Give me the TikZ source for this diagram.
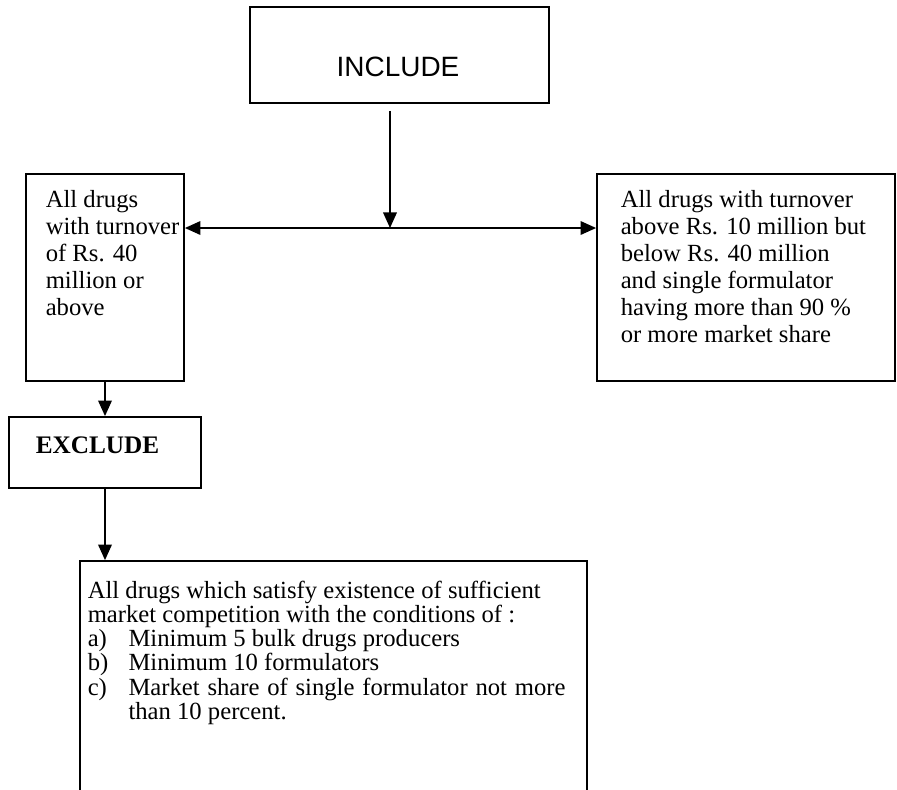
\documentclass[tikz,border=0pt]{standalone}
\usepackage{fontspec}
\setmainfont{Liberation Serif}
\newfontfamily\arialfont{Liberation Sans}
\usetikzlibrary{arrows.meta,positioning}

\begin{document}
\begin{tikzpicture}
  [
  x=0.515pt, y=-0.515pt,
  font=\fontsize{12.7}{13.9}\selectfont, draw=black, >={Triangle[length=8pt,width=7pt]}, line width=0.8pt,
  box/.style={rectangle, draw=black, line width=0.9pt, inner sep=0pt},
  txt/.style={inner sep=0pt, anchor=north west, align=left}
  ]

\useasboundingbox (0,0) rectangle (897,789);

\node[box, minimum width=154pt, minimum height=49.4pt] (include) at (399.5,55) {};
\node[box, minimum width=81.4pt, minimum height=106.6pt] (left) at (105,277.5) {};
\node[box, minimum width=153.5pt, minimum height=106.6pt] (right) at (746,277.5) {};
\node[box, minimum width=98.9pt, minimum height=36.6pt] (exclude) at (105,452.5) {};
\node[box, minimum width=261.1pt, minimum height=123.1pt] (rules) at (333.5,680.5) {};

\node[font=\arialfont\fontsize{14.4}{16}\selectfont] (includetxt) at (398,67) {INCLUDE};
\node[txt] (lefttxt) at (45,190) {All drugs\\with turnover\\of Rs. 40\\million or\\above};
\node[txt] (righttxt) at (620,190) {All drugs with turnover\\above Rs. 10 million but\\below Rs. 40 million\\and single formulator\\having more than 90 \%\\or more market share};
\node[txt, anchor=base west, font=\fontsize{13}{14}\selectfont\bfseries] (excludetxt) at (35,453) {EXCLUDE};
\node[txt, font=\fontsize{12.7}{12.5}\selectfont] (rulestxt) at (87,580) {All drugs which satisfy existence of sufficient\\
market competition with the conditions of :\\
\makebox[21pt][l]{a)}Minimum 5 bulk drugs producers\\
\makebox[21pt][l]{b)}Minimum 10 formulators\\
\makebox[21pt][l]{c)}\makebox[225pt][s]{Market share of single formulator not more}\\
\hspace*{21pt}than 10 percent.};

\coordinate (split) at (390,228);
\draw[->, shorten <=3.6pt] (include.south -| split) -- (split);
\draw[<->] (split -| left.east) -- (split -| right.west);
\draw[->] (left.south) -- (exclude.north);
\draw[->] (exclude.south) -- (exclude.south |- rules.north);

\end{tikzpicture}
\end{document}
